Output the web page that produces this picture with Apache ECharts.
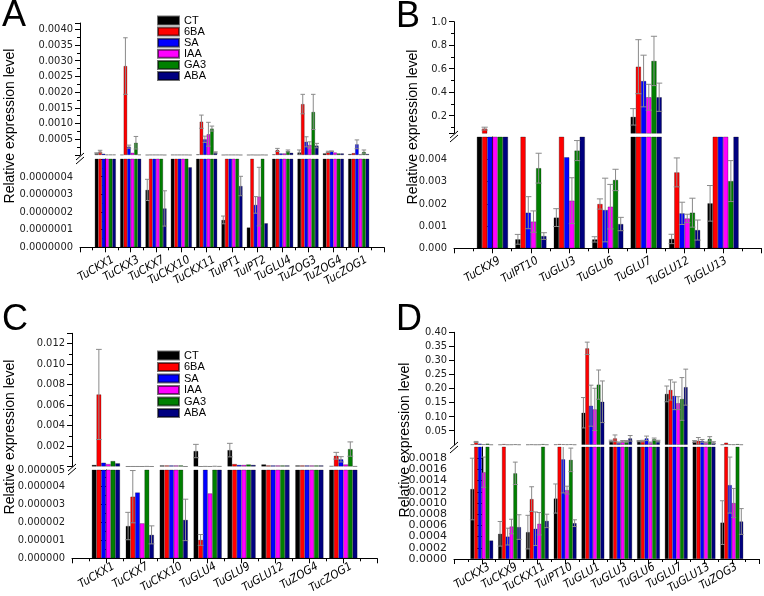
<!DOCTYPE html>
<html><head><meta charset="utf-8">
<script src="https://cdn.jsdelivr.net/npm/echarts@6/dist/echarts.min.js"></script>
<style>html,body{margin:0;padding:0;background:#fff}#c{width:764px;height:596px}</style>
</head><body><div id="c"></div><script>
const treatments = ['CT','6BA','SA','IAA','GA3','ABA'];
const colors = ['#000000','#ff0000','#0000ff','#ff00ff','#008000','#000080'];

// ---------- Panel A ----------
const aCategories = ['TuCKX1','TuCKX3','TuCKX7','TuCKX10','TuCKX11','TuIPT1','TuIPT2','TuGLU4','TuZOG3','TuZOG4','TucZOG1'];
const aCT  = [0.00005, 0.000005, 3.25e-7, 0.000005, 0.00002, 1.55e-7, 1.12e-7, 0.00002, 0.00008, 0.00005, 0.00003];
const a6BA = [0.00011, 0.00283, 0.000005, 0.000005, 0.00106, 0.000005, 0.000005, 0.00016, 0.00162, 0.0001, 0.00006];
const aSA  = [0.00004, 0.000265, 0.000005, 0.000005, 0.0005, 0.000005, 2.4e-7, 0.00005, 0.00042, 0.00012, 0.00034];
const aIAA = [0.00001, 0.00007, 0.000005, 0.000005, 0.00066, 0.000005, 2.87e-7, 0.00005, 0.00032, 0.00008, 0.00002];
const aGA3 = [0.00001, 0.00039, 0.000005, 0.000005, 0.00084, 0.000005, 0.000005, 0.00013, 0.00137, 0.00005, 0.0001];
const aABA = [0.00001, 0.00001, 2.2e-7, 4.53e-7, 0.00008, 3.47e-7, 1.36e-7, 0.00007, 0.0003, 0.00005, 0.00003];
const aCTerr  = [0.00002, 0, 6e-8, 0, 0, 2.2e-8, 0, 0, 0.00008, 0, 0];
const a6BAerr = [0.00004, 0.0009, 0, 0, 0.00021, 0, 0, 0.00005, 0.00031, 0.00002, 0];
const aSAerr  = [0, 0.00005, 0, 0, 0.0001, 0, 4.7e-8, 0, 0.00016, 0.00001, 0.00014];
const aIAAerr = [0, 0, 0, 0, 0.00038, 0, 1.66e-7, 0, 0.0001, 0, 0];
const aGA3err = [0, 0.0002, 0, 0, 0.00008, 0, 0, 0.00003, 0.00056, 0, 0.00006];
const aABAerr = [0, 0, 1e-7, 0, 0.00002, 5.5e-8, 0, 0, 0.00007, 0, 0];

// ---------- Panel B ----------
const bCategories = ['TuCKX9','TuIPT10','TuGLU3','TuGLU6','TuGLU7','TuGLU12','TuGLU13'];
const bCT  = [0.01, 0.000404, 0.00138, 0.0004, 0.19, 0.00042, 0.00202];
const b6BA = [0.09, 0.01, 0.01, 0.00199, 0.617, 0.00341, 0.01];
const bSA  = [0.01, 0.0016, 0.00409, 0.00172, 0.495, 0.00157, 0.01];
const bIAA = [0.01, 0.0012, 0.00214, 0.00187, 0.357, 0.00134, 0.01];
const bGA3 = [0.01, 0.0036, 0.00439, 0.00307, 0.666, 0.0016, 0.00302];
const bABA = [0.01, 0.00055, 0.01, 0.00109, 0.357, 0.00082, 0.01];
const bCTerr  = [0, 0.00022, 0.0004, 0.00012, 0.07, 0.00021, 0.0008];
const b6BAerr = [0.012, 0, 0, 0.00023, 0.23, 0.00065, 0];
const bSAerr  = [0, 0.00072, 0, 0.00143, 0.22, 0.0005, 0];
const bIAAerr = [0, 0.00048, 0.00103, 0.001, 0.11, 0.00019, 0];
const bGA3err = [0, 0.00067, 0.00045, 0.00048, 0.21, 0.00065, 0.00092];
const bABAerr = [0, 0.00015, 0, 0.0003, 0.12, 0.00045, 0];

// ---------- Panel C ----------
const cCategories = ['TuCKX1','TuCKX7','TuCKX10','TuGLU4','TuGLU9','TuGLU12','TuZOG4','TucZOG1'];
const cCT  = [0.00015, 1.79e-6, 0.0001, 0.00151, 0.0016, 0.0002, 0.0001, 0.00005];
const c6BA = [0.00703, 3.42e-6, 0.0001, 1.02e-6, 0.00024, 0.0001, 0.0001, 0.00105];
const cSA  = [0.00037, 3.65e-6, 0.0001, 0.00002, 0.00015, 0.0001, 0.0001, 0.0007];
const cIAA = [0.00024, 1.94e-6, 0.0001, 3.6e-6, 0.00015, 0.0001, 0.0001, 0.0002];
const cGA3 = [0.00053, 0.00002, 0.0001, 0.00005, 0.0002, 0.0001, 0.0001, 0.0017];
const cABA = [0.00031, 1.3e-6, 2.13e-6, 0.00002, 0.00015, 0.0001, 0.0001, 0.00002];
const cCTerr  = [0, 0.76e-6, 0, 0.00065, 0.00066, 0, 0, 0];
const c6BAerr = [0.0044, 1.45e-6, 0, 0.3e-6, 0, 0, 0, 0.00033];
const cSAerr  = [0, 0, 0, 0, 0, 0, 0, 0.00026];
const cIAAerr = [0, 0, 0, 0, 0, 0, 0, 0];
const cGA3err = [0, 0, 0, 0, 0, 0, 0, 0.0007];
const cABAerr = [0, 0.5e-6, 1.15e-6, 0, 0, 0, 0, 0];

// ---------- Panel D ----------
const dCategories = ['TuCKX3','TuCKX9','TuCKX11','TuIPT10','TuGLU1','TuGLU3','TuGLU6','TuGLU7','TuGLU13','TuZOG3'];
const dCT  = [0.00125, 0.00045, 0.00048, 0.00108, 0.114, 0.0135, 0.013, 0.181, 0.012, 0.00065];
const d6BA = [0.01, 0.0025, 0.00107, 0.0025, 0.343, 0.023, 0.013, 0.195, 0.014, 0.0075];
const dSA  = [0.004, 0.0004, 0.00054, 0.00178, 0.139, 0.008, 0.023, 0.174, 0.014, 0.00132];
const dIAA = [0.00155, 0.00058, 0.00063, 0.00123, 0.126, 0.012, 0.008, 0.148, 0.008, 0.001];
const dGA3 = [0.004, 0.00153, 0.0025, 0.00177, 0.214, 0.012, 0.02, 0.163, 0.021, 0.0025];
const dABA = [0.00033, 0.00057, 0.00068, 0.00064, 0.153, 0.023, 0.013, 0.205, 0.008, 0.00067];
const dCTerr  = [0.00055, 0.00022, 0.0003, 0.00026, 0.054, 0.003, 0.002, 0.028, 0.003, 0.00039];
const d6BAerr = [0.002, 0, 0.00022, 0, 0.022, 0.012, 0.003, 0.036, 0.012, 0];
const dSAerr  = [0, 0.00015, 0.0003, 0.0006, 0.073, 0.002, 0.008, 0.049, 0.005, 0.0005];
const dIAAerr = [0.00027, 0.00013, 0.0002, 0.00007, 0.075, 0.003, 0.002, 0.023, 0.002, 0.00026];
const dGA3err = [0, 0.0002, 0, 0.00021, 0.052, 0.003, 0.004, 0.076, 0.008, 0];
const dABAerr = [0, 0.00022, 0.00012, 0.00006, 0.074, 0.01, 0.003, 0.064, 0.003, 0.00023];

// ---------- layout ----------
const tickFont = '"DejaVu Sans Condensed", "Liberation Sans", sans-serif';
const panels = [
  {cats:aCategories, vals:[aCT,a6BA,aSA,aIAA,aGA3,aABA], errs:[aCTerr,a6BAerr,aSAerr,aIAAerr,aGA3err,aABAerr],
   brk:5e-7, left:80, width:304, gap:'17%',
   top:{top:23, height:132, min:0, max:0.0042, interval:0.0005, dec:4, minor:2, showMin:false, showMax:false, fs:11},
   bot:{top:159, height:88.3, min:0, max:5e-7, interval:1e-7, dec:7, minor:2, showMin:true, showMax:false, fs:11}},
  {cats:bCategories, vals:[bCT,b6BA,bSA,bIAA,bGA3,bABA], errs:[bCTerr,b6BAerr,bSAerr,bIAAerr,bGA3err,bABAerr],
   brk:0.005, left:454, width:307.5, gap:'19%',
   top:{top:21.7, height:111.6, min:0.05, max:1.0, step:0.2, dec:1, minor:2, showMin:false, showMax:true, fs:11},
   bot:{top:137, height:111.3, min:0, max:0.005, interval:0.001, dec:3, minor:2, showMin:true, showMax:false, fs:11}},
  {cats:cCategories, vals:[cCT,c6BA,cSA,cIAA,cGA3,cABA], errs:[cCTerr,c6BAerr,cSAerr,cIAAerr,cGA3err,cABAerr],
   brk:4.9e-6, left:72, width:305.2, gap:'17%',
   top:{top:333.3, height:133.2, min:0, max:0.013, interval:0.002, dec:3, minor:2, showMin:false, showMax:false, fs:11},
   bot:{top:470, height:88.3, min:0, max:4.9e-6, interval:1e-6, dec:6, minor:2, showMin:true, showMax:true, fs:11}},
  {cats:dCategories, vals:[dCT,d6BA,dSA,dIAA,dGA3,dABA], errs:[dCTerr,d6BAerr,dSAerr,dIAAerr,dGA3err,dABAerr],
   brk:0.002, left:454, width:305.6, gap:'18%',
   top:{top:332.3, height:112.5, min:0, max:0.40, interval:0.05, dec:2, minor:0, showMin:false, showMax:true, fs:11},
   bot:{top:447, height:112, min:0, max:0.002, interval:0.0002, dec:4, minor:0, showMin:true, showMax:false, fs:11, ff:'DejaVu Sans'}}
];

function yAx(gi, S) {
  const o = {type:'value', gridIndex:gi, min:S.min, max:S.max, splitLine:{show:false},
    axisLine:{show:true, lineStyle:{color:'#000', width:1}},
    axisTick:{show:true, length:5, lineStyle:{color:'#000'}},
    minorTick:{show:S.minor>0, splitNumber:S.minor||2, length:3, lineStyle:{color:'#000'}},
    axisLabel:{fontFamily:S.ff || tickFont, fontSize:S.fs, color:'#222', margin:7,
      showMinLabel:S.showMin, showMaxLabel:S.showMax, formatter:v => v.toFixed(S.dec)}};
  if (S.interval) o.interval = S.interval;
  else { o.minInterval = S.step; o.maxInterval = S.step; o.splitNumber = 5; }
  return o;
}

function errRender(gapFrac, ymin) {
  return function(params, api) {
    const ci = api.value(0), k = api.value(1), v = api.value(2), e = api.value(3);
    const band = api.size([1, 0])[0];
    const bw = band * (1 - gapFrac) / 6;
    const cx = api.coord([ci, v])[0] + (k - 2.5) * bw;
    const yt = api.coord([ci, v + e])[1];
    const yb = api.coord([ci, Math.max(v - e, ymin)])[1];
    const hw = bw / 2 + 0.5;
    const st = {stroke:'#8a8a8a', lineWidth:1};
    return {type:'group', children:[
      {type:'line', shape:{x1:cx, y1:yt, x2:cx, y2:yb}, style:st},
      {type:'line', shape:{x1:cx-hw, y1:yt, x2:cx+hw, y2:yt}, style:st},
      {type:'line', shape:{x1:cx-hw, y1:yb, x2:cx+hw, y2:yb}, style:st}
    ]};
  };
}

const option = {animation:false, backgroundColor:'#fff', grid:[], xAxis:[], yAxis:[], series:[]};

panels.forEach(P => {
  const cats = [''].concat(P.cats, ['']);
  ['top','bot'].forEach((seg, si) => {
    const S = P[seg];
    const gi = option.grid.length;
    option.grid.push({left:P.left, width:P.width, top:S.top, height:S.height});
    const xi = option.xAxis.length;
    option.xAxis.push({type:'category', gridIndex:gi, data:cats, boundaryGap:false, show:false});
    if (si === 1) {
      option.xAxis.push({type:'value', gridIndex:gi, min:-1, max:P.cats.length, interval:1, position:'bottom',
        axisLine:{show:true, lineStyle:{color:'#000'}}, axisTick:{show:true, length:5, lineStyle:{color:'#000'}},
        minorTick:{show:true, splitNumber:2, length:3, lineStyle:{color:'#000'}},
        axisLabel:{show:false}, splitLine:{show:false}});
    }
    const yi = option.yAxis.length;
    option.yAxis.push(yAx(gi, S));
    treatments.forEach((t, k) => {
      option.series.push({type:'bar', name:t, xAxisIndex:xi, yAxisIndex:yi,
        data:['-'].concat(P.vals[k], ['-']), barGap:'0%', barCategoryGap:P.gap, clip:true,
        itemStyle:{color:colors[k], borderColor:'rgba(0,0,0,0.55)', borderWidth:0.5}});
    });
    const items = [];
    P.vals.forEach((arr, k) => arr.forEach((v, i) => {
      const e = P.errs[k][i];
      if (e > 0 && (si === 0 ? v > P.brk : v <= P.brk)) items.push([i + 1, k, v, e]);
    }));
    option.series.push({type:'custom', name:'err', xAxisIndex:xi, yAxisIndex:yi, z:5, silent:true, clip:true,
      data:items, encode:{x:0, y:2}, renderItem:errRender(parseFloat(P.gap) / 100, S.min)});
  });
  // label-only axis (shifted slightly, like the reference's rotated tick labels)
  const B = P.bot;
  const lg = option.grid.length;
  option.grid.push({left:P.left + 7.8, width:P.width, top:B.top, height:B.height});
  option.xAxis.push({type:'category', gridIndex:lg, data:cats, boundaryGap:false, position:'bottom',
    axisLine:{show:false}, axisTick:{show:false}, splitLine:{show:false},
    axisLabel:{interval:(idx, val) => val !== '', rotate:30, fontFamily:tickFont, fontStyle:'italic',
      fontSize:11.5, color:'#000', margin:11.5}});
  option.yAxis.push({type:'value', gridIndex:lg, show:false});
});

const legendBase = {orient:'vertical', left:152, itemWidth:21, itemHeight:8, icon:'rect', data:treatments,
  textStyle:{fontFamily:'Liberation Sans', fontSize:11, color:'#000'}};
option.legend = [
  Object.assign({}, legendBase, {top:10, itemGap:0.1}),
  Object.assign({}, legendBase, {top:345, itemGap:0.5})
];

function letter(t, x, y) {
  return {type:'text', x:x, y:y, style:{text:t, font:'36px "Liberation Sans"', fill:'#000', textAlign:'left', textVerticalAlign:'middle'}};
}
function ytitle(x, y) {
  return {type:'text', x:x, y:y, rotation:Math.PI/2, style:{text:'Relative expression level', font:'14px "Liberation Sans"', fill:'#000', textAlign:'center', textVerticalAlign:'middle'}};
}
function brkMark(x, y) {
  const st = {stroke:'#000', lineWidth:1};
  return [
    {type:'line', shape:{x1:x-4, y1:y+1, x2:x+4, y2:y-6}, style:st},
    {type:'line', shape:{x1:x-4, y1:y+5, x2:x+4, y2:y-2}, style:st}
  ];
}
option.graphic = [
  letter('A', 2, 16), letter('B', 396, 17), letter('C', 2, 320), letter('D', 396, 320),
  ytitle(10, 126), ytitle(413, 127), ytitle(10, 437), ytitle(405, 440)
].concat(brkMark(80, 159), brkMark(454, 137), brkMark(72, 470), brkMark(454, 448));

echarts.init(document.getElementById('c'), null, {renderer:'canvas'}).setOption(option);
</script></body></html>
